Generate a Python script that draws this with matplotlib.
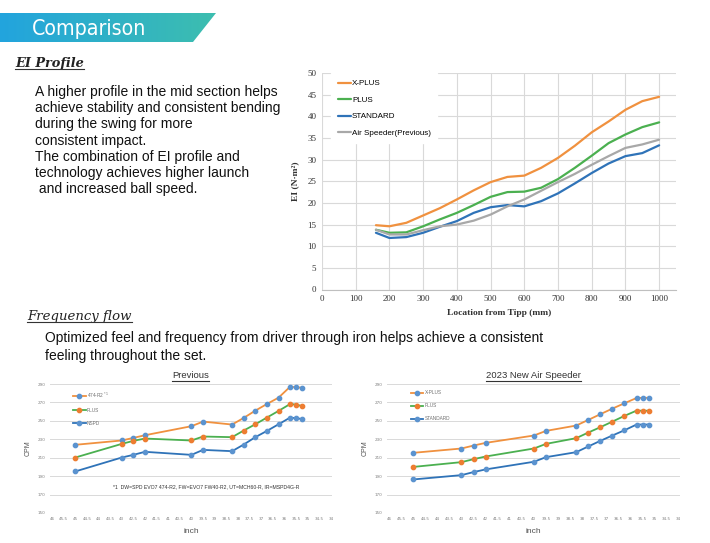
import numpy as np
import matplotlib
matplotlib.use("Agg")
import matplotlib.pyplot as plt
from matplotlib.patches import Polygon
from matplotlib.colors import LinearSegmentedColormap
from matplotlib import font_manager as fm

W, H = 710, 543

# ---------------- data ----------------
ei_x = [160, 200, 250, 300, 350, 400, 450, 500, 550, 600, 650, 700, 750, 800, 850, 900, 950, 1000]
ei_xplus = [14.85, 14.6, 15.4, 17.1, 18.8, 20.8, 22.9, 24.8, 26.0, 26.3, 28.1, 30.4, 33.2, 36.3, 38.8, 41.5, 43.5, 44.5]
ei_plus = [13.8, 13.1, 13.2, 14.6, 16.2, 17.7, 19.5, 21.4, 22.5, 22.6, 23.5, 25.5, 28.1, 30.9, 33.8, 35.8, 37.5, 38.6]
ei_standard = [13.1, 11.9, 12.1, 13.1, 14.5, 15.8, 17.7, 19.0, 19.5, 19.2, 20.4, 22.2, 24.5, 26.9, 29.1, 30.8, 31.5, 33.3]
ei_previous = [13.8, 12.7, 12.7, 13.7, 14.6, 15.0, 15.9, 17.3, 19.2, 20.8, 22.8, 24.8, 26.7, 28.8, 30.8, 32.7, 33.5, 34.6]
ei_labels = ["X-PLUS", "PLUS", "STANDARD", "Air Speeder(Previous)"]

club_len = [45, 43, 42.5, 42, 40, 39.5, 38.25, 37.75, 37.25, 36.75, 36.25, 35.75, 35.5, 35.25]
prev_474 = [224, 228.7, 231.5, 234.4, 244.2, 249.2, 246, 253.2, 261.1, 268.3, 275.2, 287.1, 286.4, 286]
prev_plus = [210.2, 225, 228.3, 230.8, 228.7, 233, 232.3, 239.5, 246.3, 253.6, 260.8, 268.3, 267.6, 266.2]
prev_nspd = [195.1, 210.2, 213.1, 216.4, 213.1, 218.5, 217.1, 224.3, 232.3, 239.1, 246.3, 253.6, 252.8, 252.1]
new_xplus = [215.3, 220, 223.2, 226.1, 234.1, 239.1, 244.9, 251, 257.2, 263.3, 269.1, 274.8, 275, 275]
new_plus = [200, 205.2, 208.4, 211.3, 220, 225, 231.2, 237.3, 243.1, 249.2, 255.4, 261.1, 261, 261]
new_standard = [186.4, 191.1, 194.4, 197.3, 205.6, 210.6, 216, 222.2, 228.3, 234.1, 239.8, 246, 246, 246]
prev_labels = [r"474-R2 $^{*1}$", "PLUS", "NSPD"]
new_labels = ["X-PLUS", "PLUS", "STANDARD"]

inch_ticks = [46 - 0.5 * i for i in range(25)]
cpm_ticks = [150, 170, 190, 210, 230, 250, 270, 290]
ei_yticks = [0, 5, 10, 15, 20, 25, 30, 35, 40, 45, 50]
ei_xticks = [0, 100, 200, 300, 400, 500, 600, 700, 800, 900, 1000]

# ---------------- colours ----------------
C_OR = "#F0913F"
C_GR = "#4BB050"
C_BL = "#2F73B8"
C_GY = "#A8A8A8"
C_MB = "#5B93CF"
C_MO = "#ED7D31"

fig = plt.figure(figsize=(W / 100, H / 100), dpi=100)
fig.patch.set_facecolor("white")


def px_axes(l, t, r, b, **kw):
    return fig.add_axes([l / W, 1 - b / H, (r - l) / W, (b - t) / H], **kw)


# background / text layer
bg = fig.add_axes([0, 0, 1, 1], zorder=0)
bg.axis("off")
cmap = LinearSegmentedColormap.from_list("ban", ["#22A4DE", "#3DBEAF"])
im = bg.imshow(np.linspace(0, 1, 256).reshape(1, -1), extent=[0, 216, 42, 13],
               aspect="auto", cmap=cmap, zorder=1)
poly = Polygon([(0, 13), (216, 13), (193, 42), (0, 42)], closed=True,
               transform=bg.transData, facecolor="none", edgecolor="none")
bg.add_patch(poly)
im.set_clip_path(poly)
bg.set_xlim(0, W)
bg.set_ylim(H, 0)

ban_fp = fm.FontProperties(family="DejaVu Sans", stretch="condensed", size=17)
tc = bg.text(32, 29, "Comparison", color="white", fontproperties=ban_fp,
             va="center", ha="left", zorder=3)

t1 = bg.text(15, 67, "EI Profile", fontsize=9.3, family="DejaVu Serif", style="italic",
             weight="bold", va="baseline", ha="left", color="#222222")

body = ["A higher profile in the mid section helps",
        "achieve stability and consistent bending",
        "during the swing for more",
        "consistent impact.",
        "The combination of EI profile and",
        "technology achieves higher launch",
        " and increased ball speed."]
for i, line in enumerate(body):
    bg.text(35, 96 + 16.2 * i, line, fontsize=10, family="Liberation Sans",
            va="baseline", ha="left", color="#111111")

t2 = bg.text(27, 320, "Frequency flow", fontsize=9.5, family="DejaVu Serif", style="italic",
             va="baseline", ha="left", color="#222222")
bg.text(45, 342, "Optimized feel and frequency from driver through iron helps achieve a consistent",
        fontsize=10, family="Liberation Sans", va="baseline", ha="left", color="#111111")
bg.text(45, 360, "feeling throughout the set.",
        fontsize=10, family="Liberation Sans", va="baseline", ha="left", color="#111111")

# ---------------- EI chart ----------------
ax = px_axes(322, 73, 676, 289.5)
ax.set_xlim(0, 1050)
ax.set_ylim(0, 50)
for s in ["left", "right", "top"]:
    ax.spines[s].set_visible(False)
ax.spines["bottom"].set_color("#BFBFBF")
ax.set_xticks(ei_xticks)
ax.set_yticks(ei_yticks)
ax.grid(True, color="#D9D9D9", lw=0.8)
ax.set_axisbelow(True)
ax.tick_params(length=0, labelsize=6.5, pad=4, colors="#333333")
for lab in ax.get_xticklabels() + ax.get_yticklabels():
    lab.set_family("Liberation Serif")
for y, c, lbl in zip([ei_xplus, ei_plus, ei_standard, ei_previous],
                     [C_OR, C_GR, C_BL, C_GY], ei_labels):
    ax.plot(ei_x, y, color=c, lw=1.6, label=lbl, solid_capstyle="round")
leg = ax.legend(loc="upper left", bbox_to_anchor=(0.02, 1.01), frameon=True, fancybox=False,
                edgecolor="white", facecolor="white", framealpha=1,
                prop={"family": "Liberation Sans", "size": 5.8},
                handlelength=1.6, handletextpad=0.15, labelspacing=1.1, borderpad=0.8,
                borderaxespad=0.3)
ax.set_xlabel("Location from Tipp (mm)", family="Liberation Serif", weight="bold",
              fontsize=6.8, labelpad=4, color="#333333")
ax.set_ylabel("EI (N·m²)", family="Liberation Serif", weight="bold", fontsize=6.8,
              labelpad=6, color="#333333")


# ---------------- frequency charts ----------------
def freq_chart(l, r, series, labels, title, footnote=None):
    a = px_axes(l, 384, r, 513)
    a.set_xlim(46.1, 33.95)
    a.set_ylim(150, 290)
    for s in a.spines.values():
        s.set_visible(False)
    a.set_xticks(inch_ticks)
    a.set_xticklabels([("%g" % v) for v in inch_ticks])
    a.set_yticks(cpm_ticks)
    a.yaxis.grid(True, color="#D9D9D9", lw=0.7)
    a.set_axisbelow(True)
    a.tick_params(length=0, labelsize=3, colors="#808080", pad=3)
    cols = [(C_OR, C_MB), (C_GR, C_MO), (C_BL, C_MB)]
    for y, (lc, mc), lbl in zip(series, cols, labels):
        a.plot(club_len, y, color=lc, lw=1.3, marker="o", ms=3.1, mfc=mc, mec=mc,
               label=lbl)
    a.legend(loc="upper left", bbox_to_anchor=(0.075, 0.97), frameon=False,
             prop={"family": "Liberation Sans", "size": 3.4}, labelcolor="#707070",
             handlelength=2.6, handletextpad=0.3, labelspacing=1.7, borderpad=0)
    a.set_xlabel("inch", fontsize=6, family="Liberation Sans", color="#555555", labelpad=5)
    a.set_ylabel("CPM", fontsize=5, family="Liberation Sans", color="#555555", labelpad=4)
    tt = a.set_title(title, fontsize=6.8, family="Liberation Sans", color="#333333", pad=4)
    if footnote:
        a.text(0.5, 0.205, footnote, transform=a.transAxes, fontsize=3.7,
               family="Liberation Sans", color="#333333", ha="left", va="center")
    return a, tt


axL, ttL = freq_chart(49.7, 332, [prev_474, prev_plus, prev_nspd], prev_labels, "Previous",
                      "*1  DW=SPD EVO7 474-R2, FW=EVO7 FW40-R2, UT=MCH60-R, IR=MSPD4G-R")
axR, ttR = freq_chart(386.6, 680, [new_xplus, new_plus, new_standard], new_labels,
                      "2023 New Air Speeder")
axL.texts[0].set_position(((113 - 49.7) / (332 - 49.7), 0.205))

# fit the banner title into the reference width
fig.canvas.draw()
r = fig.canvas.get_renderer()
bb = tc.get_window_extent(renderer=r)
if bb.width > 125:
    tc.set_fontsize(17 * 114 / bb.width)

# underlines
fig.canvas.draw()
inv = bg.transData.inverted()
for t, off in [(t1, 2.5), (t2, 2.5), (ttL, 1.2), (ttR, 1.2)]:
    bb = t.get_window_extent(renderer=r)
    (x0, y0), (x1, y1) = inv.transform([(bb.x0, bb.y0), (bb.x1, bb.y1)])
    ybot = max(y0, y1)
    bg.plot([x0, x1], [ybot - off + 1.5, ybot - off + 1.5], color="#333333", lw=0.8, zorder=3)
bg.set_xlim(0, W)
bg.set_ylim(H, 0)

fig.savefig("out.png", dpi=100, facecolor="white")
